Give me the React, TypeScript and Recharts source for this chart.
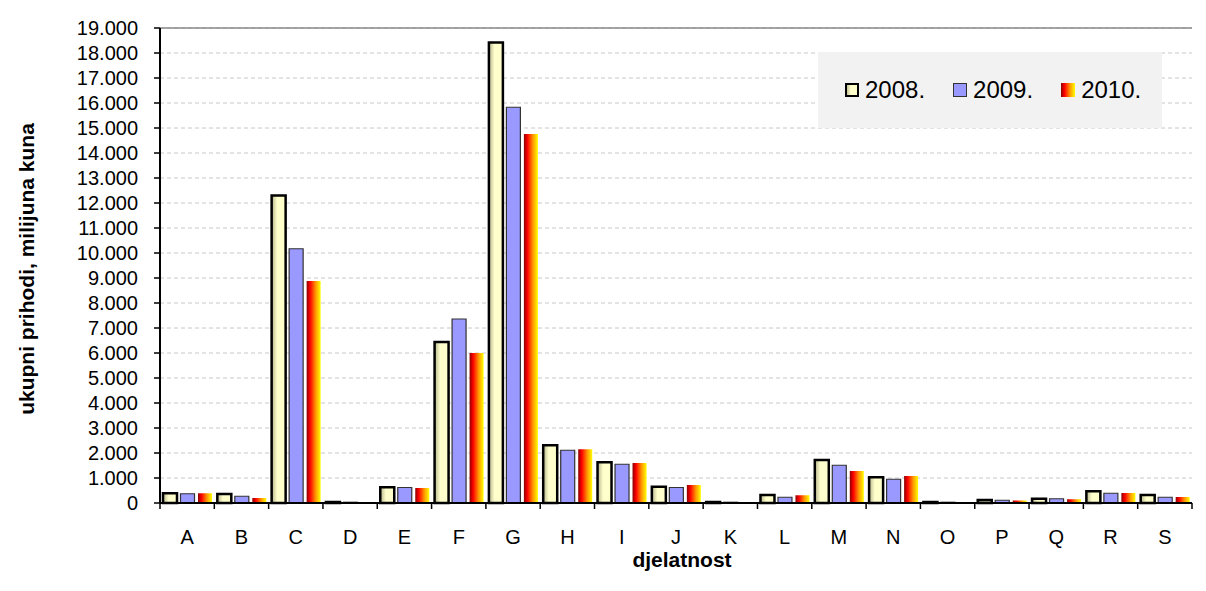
import React from 'react';
import {
  BarChart, Bar, XAxis, YAxis, CartesianGrid, Legend, ReferenceLine, Label,
} from 'recharts';

// djelatnost (NKD sections)
const categories = ['A', 'B', 'C', 'D', 'E', 'F', 'G', 'H', 'I', 'J', 'K', 'L', 'M', 'N', 'O', 'P', 'Q', 'R', 'S'];

// ukupni prihodi, milijuna kuna
const values2008 = [390, 360, 12300, 40, 630, 6440, 18420, 2310, 1630, 650, 40, 320, 1720, 1030, 40, 120, 170, 470, 320];
const values2009 = [370, 270, 10170, 30, 620, 7360, 15830, 2110, 1550, 620, 30, 230, 1510, 950, 30, 110, 170, 390, 230];
const values2010 = [390, 200, 8880, 10, 600, 6000, 14760, 2150, 1600, 720, 10, 310, 1280, 1080, 10, 100, 150, 400, 240];

const seriesNames = ['2008.', '2009.', '2010.'];
const yTicks = [0, 1000, 2000, 3000, 4000, 5000, 6000, 7000, 8000, 9000, 10000,
  11000, 12000, 13000, 14000, 15000, 16000, 17000, 18000, 19000];

const data = categories.map((cat, i) => ({
  cat,
  y2008: values2008[i],
  y2009: values2009[i],
  y2010: values2010[i],
}));

const FONT = '"Liberation Sans", Arial, Helvetica, sans-serif';
const W = 1206;
const H = 591;
const PLOT_LEFT = 160;
const PLOT_RIGHT = 1192;
const PLOT_TOP = 28;
const PLOT_BOTTOM = 503;
const BAND = (PLOT_RIGHT - PLOT_LEFT) / categories.length;

const fmtThousands = (v: number) => (v === 0 ? '0' : `${v / 1000}.000`);

const CategoryTick = ({ x, y, payload, index }: any) => (
  <g>
    <line x1={x - BAND / 2} x2={x - BAND / 2} y1={y} y2={y + 6} stroke="#000" strokeWidth={1.5} />
    {index === categories.length - 1 && (
      <line x1={x + BAND / 2} x2={x + BAND / 2} y1={y} y2={y + 6} stroke="#000" strokeWidth={1.5} />
    )}
    <text x={x} y={y + 41} textAnchor="middle" fontSize={20} fill="#000" fontFamily={FONT}>
      {payload.value}
    </text>
  </g>
);

const Swatch = ({ i }: { i: number }) => {
  if (i === 0) return <rect x={1} y={1} width={12} height={12} fill="url(#g2008)" stroke="#000" strokeWidth={2} />;
  if (i === 1) return <rect x={0.5} y={0.5} width={13} height={13} fill="#9999FF" stroke="#333" strokeWidth={1} />;
  return <rect x={0} y={0} width={14} height={14} fill="url(#g2010)" />;
};

const LegendBox = () => (
  <div style={{
    width: 344, height: 76, background: '#F2F2F2',
    display: 'flex', alignItems: 'center', paddingLeft: 27, boxSizing: 'border-box',
    fontFamily: FONT, fontSize: 24, color: '#000',
  }}>
    {seriesNames.map((name, i) => (
      <div key={name} style={{ display: 'flex', alignItems: 'center', marginRight: 28 }}>
        <svg width={14} height={14} style={{ display: 'block' }}><Swatch i={i} /></svg>
        <span style={{ marginLeft: 6, lineHeight: '24px' }}>{name}</span>
      </div>
    ))}
  </div>
);

export default function App() {
  return (
    <div style={{ position: 'absolute', left: 0, top: 0, width: W, height: H, background: '#fff' }}>
      <BarChart
        width={W} height={H} data={data}
        margin={{ top: PLOT_TOP, right: W - PLOT_RIGHT, bottom: 0, left: 0 }}
        barSize={14} barGap={3.5}
        style={{ fontFamily: FONT }}
      >
        <defs>
          <linearGradient id="g2008" x1="0" y1="0" x2="1" y2="0">
            <stop offset="0%" stopColor="#B4B48C" />
            <stop offset="40%" stopColor="#FFFFCC" />
            <stop offset="100%" stopColor="#FFFFCC" />
          </linearGradient>
          <linearGradient id="g2010" x1="0" y1="0" x2="1" y2="0">
            <stop offset="0%" stopColor="#8B0000" />
            <stop offset="25%" stopColor="#FF0000" />
            <stop offset="65%" stopColor="#FF9900" />
            <stop offset="100%" stopColor="#FFFF00" />
          </linearGradient>
        </defs>
        <CartesianGrid vertical={false} stroke="#C8C8C8" strokeDasharray="4 3" />
        <XAxis
          dataKey="cat" height={H - PLOT_BOTTOM} interval={0}
          axisLine={{ stroke: '#000', strokeWidth: 2 }}
          tickLine={false} tickSize={0} tickMargin={0}
          tick={<CategoryTick />}
        >
          <Label content={() => (
            <text x={682} y={567} textAnchor="middle" fontSize={21} fontWeight="bold" fill="#000" fontFamily={FONT}>
              djelatnost
            </text>
          )} />
        </XAxis>
        <YAxis
          width={PLOT_LEFT} domain={[0, 19000]} ticks={yTicks} interval={0}
          tickFormatter={fmtThousands}
          axisLine={{ stroke: '#000', strokeWidth: 2 }}
          tickLine={{ stroke: '#000', strokeWidth: 1.5 }} tickSize={6} tickMargin={16}
          tick={{ fontSize: 20, fill: '#000', fontFamily: FONT }}
        >
          <Label content={() => (
            <text
              x={34} y={269} textAnchor="middle" fontSize={21} fontWeight="bold" fill="#000" fontFamily={FONT}
              transform="rotate(-90, 34, 269)"
            >
              ukupni prihodi, milijuna kuna
            </text>
          )} />
        </YAxis>
        <YAxis
          yAxisId="frame" orientation="right" width={0} domain={[0, 19000]}
          tick={false} tickLine={false}
          axisLine={{ stroke: '#A6A6A6', strokeWidth: 1.5 }}
        />
        <ReferenceLine y={19000} stroke="#888" strokeWidth={1.5} />
        <Legend
          verticalAlign="middle" align="center" layout="horizontal"
          content={<LegendBox />}
          wrapperStyle={{ left: 818, top: 52, width: 344, height: 76 }}
        />
        <Bar dataKey="y2008" name={seriesNames[0]} fill="url(#g2008)" stroke="#000" strokeWidth={2.5} isAnimationActive={false} />
        <Bar dataKey="y2009" name={seriesNames[1]} fill="#9999FF" stroke="#333" strokeWidth={1.2} isAnimationActive={false} />
        <Bar dataKey="y2010" name={seriesNames[2]} fill="url(#g2010)" isAnimationActive={false} />
      </BarChart>
    </div>
  );
}
